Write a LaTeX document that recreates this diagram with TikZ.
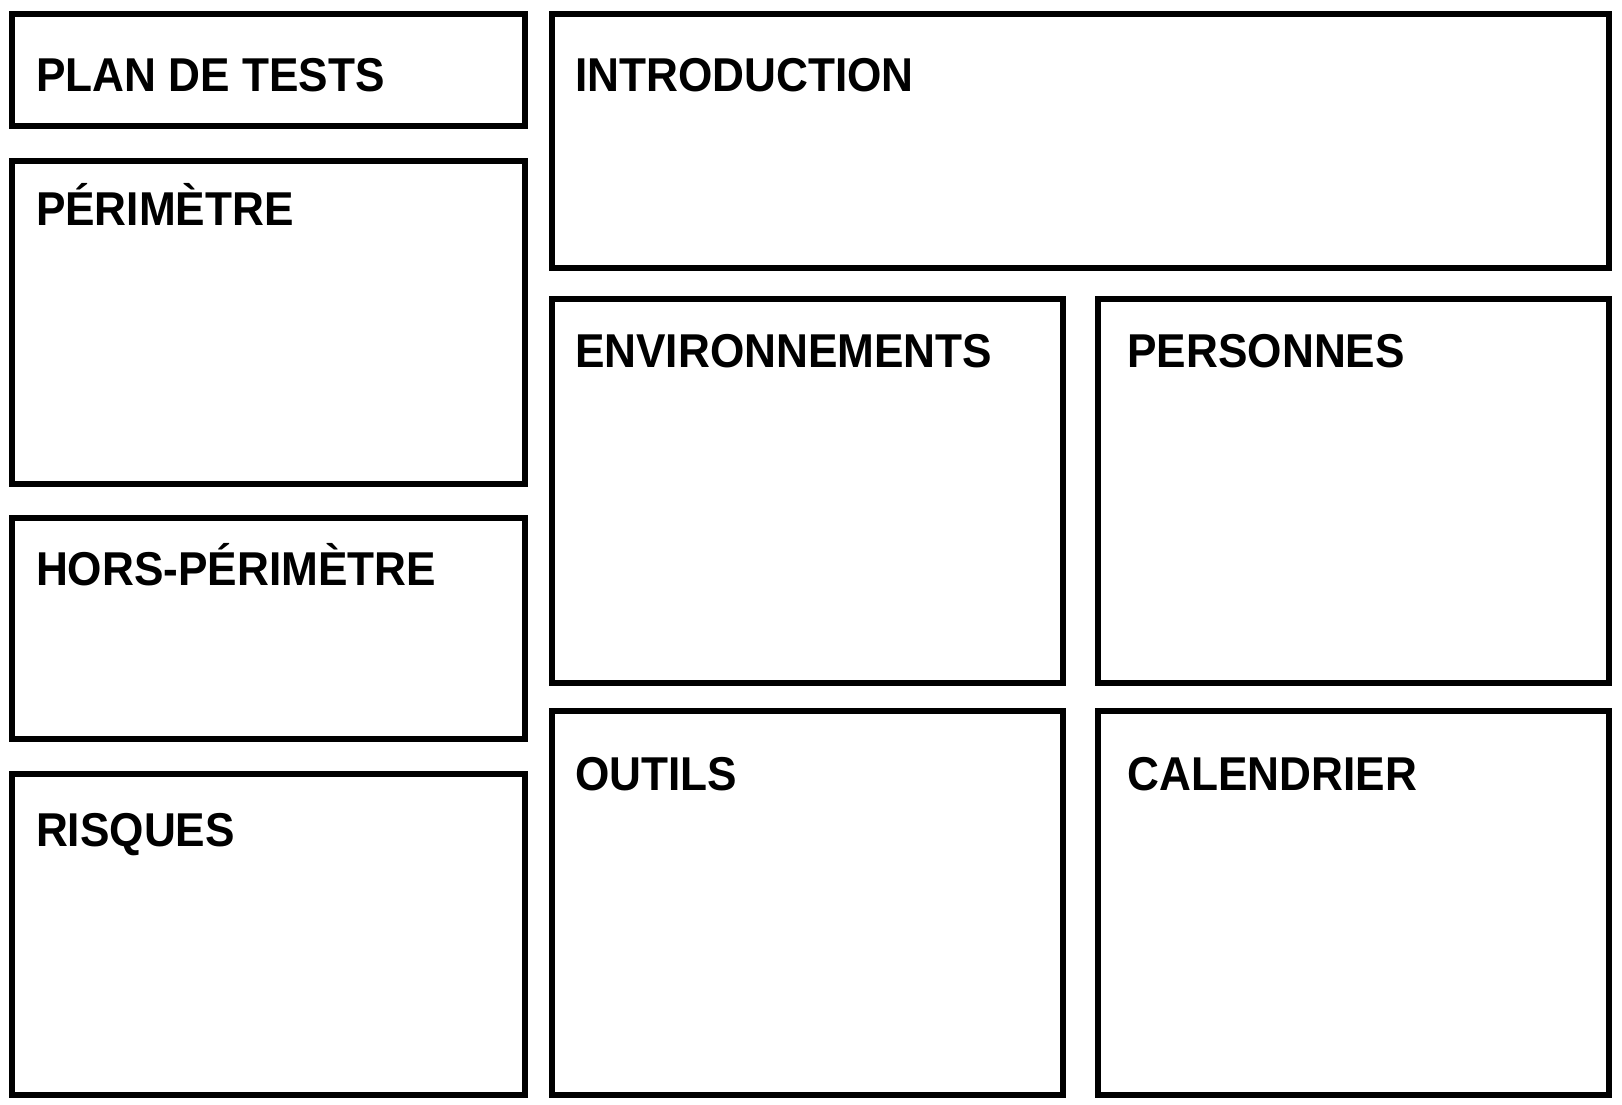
\documentclass[tikz,border=0pt]{standalone}
\usepackage{fontspec}
\setmainfont{Liberation Sans}[FakeStretch=0.93]
\newcommand{\paneltitlefont}{\fontsize{47.5}{50}\selectfont\bfseries}
\begin{document}
\begin{tikzpicture}[x=1pt, y=-1pt,
  panel/.style={draw=black, line width=6pt, anchor=north west, inner sep=0pt, outer sep=0pt},
  paneltitle/.style={anchor=base west, inner sep=0pt, outer sep=0pt, font=\paneltitlefont}]
  \useasboundingbox[fill=white] (0,0) rectangle (1622,1104);

  % left column
  \node[panel, minimum width=513pt, minimum height=112pt] (plan) at (12.4,14) {};
  \node[panel, minimum width=513pt, minimum height=323pt] (perim) at (12.4,161) {};
  \node[panel, minimum width=513pt, minimum height=221pt] (hors) at (12.4,518) {};
  \node[panel, minimum width=513pt, minimum height=320.5pt] (risk) at (12.4,774) {};

  % right part
  \node[panel, minimum width=1056.5pt, minimum height=254pt] (intro) at (552,14) {};
  \node[panel, minimum width=511pt, minimum height=384pt] (env) at (552,299) {};
  \node[panel, minimum width=511pt, minimum height=384pt] (pers) at (1097.5,299) {};
  \node[panel, minimum width=511pt, minimum height=383.5pt] (tools) at (552,711) {};
  \node[panel, minimum width=511pt, minimum height=383.5pt] (cal) at (1097.5,711) {};

  % titles
  \node[paneltitle] (planT)  at ([xshift=23.6pt, yshift=-77pt]plan.north west) {PLAN DE TESTS};
  \node[paneltitle] (perimT) at ([xshift=23.6pt, yshift=-64.5pt]perim.north west) {PÉRIMÈTRE};
  \node[paneltitle] (horsT)  at ([xshift=23.6pt, yshift=-67pt]hors.north west) {HORS-PÉRIMÈTRE};
  \node[paneltitle] (riskT)  at ([xshift=23.6pt, yshift=-72.5pt]risk.north west) {RISQUES};
  \node[paneltitle] (introT) at ([xshift=23pt, yshift=-77pt]intro.north west) {INTRODUCTION};
  \node[paneltitle] (envT)   at ([xshift=23pt, yshift=-68pt]env.north west) {ENVIRONNEMENTS};
  \node[paneltitle] (persT)  at ([xshift=30pt, yshift=-68pt]pers.north west) {PERSONNES};
  \node[paneltitle] (toolsT) at ([xshift=23pt, yshift=-79.5pt]tools.north west) {OUTILS};
  \node[paneltitle] (calT)   at ([xshift=30pt, yshift=-79.5pt]cal.north west) {CALENDRIER};
\end{tikzpicture}
\end{document}
